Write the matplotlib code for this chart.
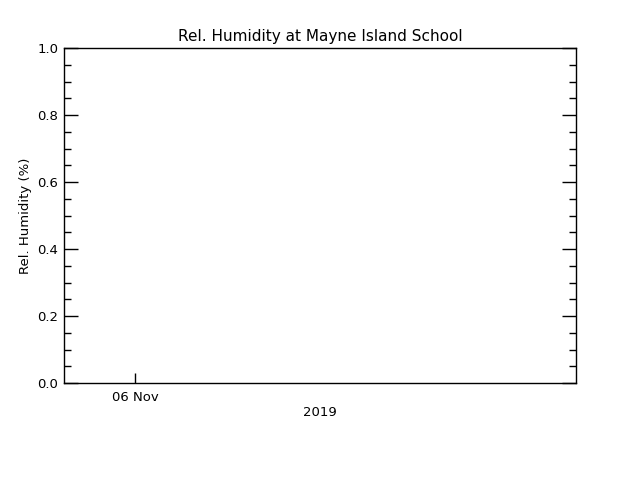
import datetime as dt

import matplotlib
matplotlib.use("Agg")
import matplotlib.dates as mdates
from matplotlib import pyplot as plt
from matplotlib.ticker import MultipleLocator

# no readings in the reference: the plot is empty
times = []
humidity = []

x_start = dt.datetime(2019, 11, 5, 20, 40)
x_end = dt.datetime(2019, 11, 6, 20, 40)
x_ticks = [dt.datetime(2019, 11, 6)]
y_ticks = [0.0, 0.2, 0.4, 0.6, 0.8, 1.0]

fig = plt.figure(figsize=(6.4, 4.8), dpi=100)
ax = fig.add_axes([0.1, 0.202, 0.8, 0.698])

ax.plot(times, humidity, color="black", linewidth=1)

ax.set_xlim(x_start, x_end)
ax.set_ylim(0.0, 1.0)

ax.set_xticks(x_ticks)
ax.xaxis.set_major_formatter(mdates.DateFormatter("%d %b"))
ax.set_yticks(y_ticks)
ax.yaxis.set_major_formatter(plt.FormatStrFormatter("%.1f"))
ax.yaxis.set_minor_locator(MultipleLocator(0.05))

ax.tick_params(axis="both", which="both", direction="in", color="black",
               labelsize=9.5, width=1)
ax.tick_params(axis="y", which="major", length=10, right=True, pad=4)
ax.tick_params(axis="y", which="minor", length=5, right=True)
ax.tick_params(axis="x", which="major", length=7, top=False, pad=6)

for sp in ax.spines.values():
    sp.set_linewidth(1)

ax.set_title("Rel. Humidity at Mayne Island School", fontsize=11, pad=5)
ax.set_ylabel("Rel. Humidity (%)", fontsize=9.5, labelpad=4)
ax.set_xlabel("2019", fontsize=9.5, labelpad=1)

fig.savefig("out.png", dpi=100)
